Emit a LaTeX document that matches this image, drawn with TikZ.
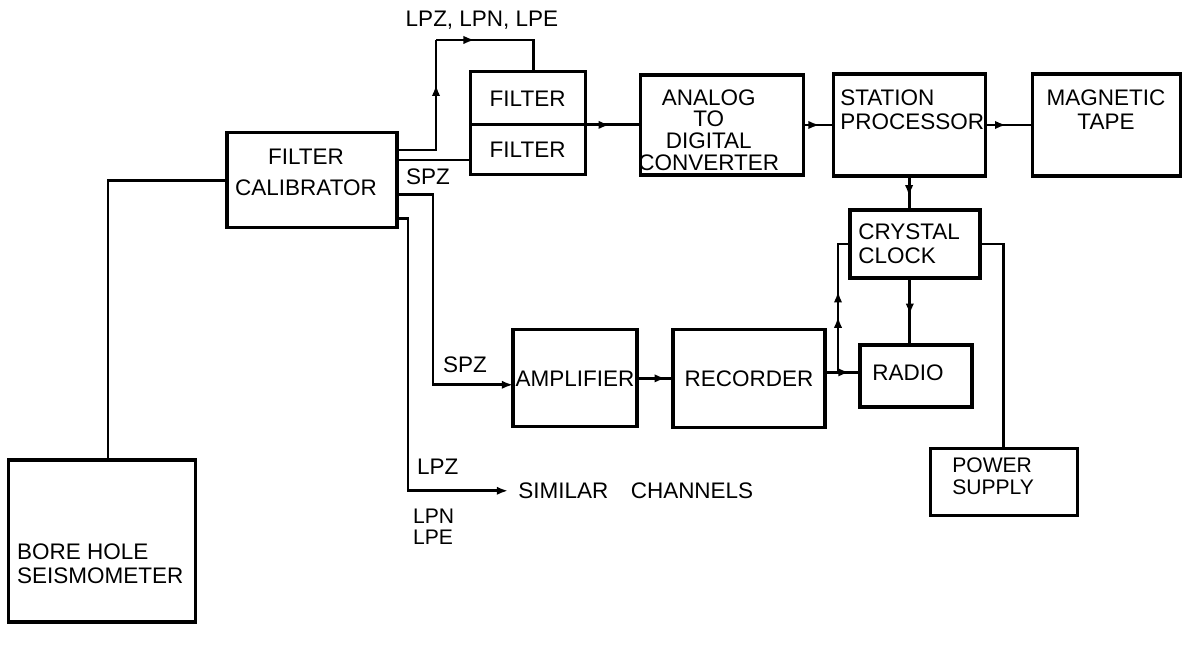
\documentclass[tikz,border=0pt]{standalone}
\usepackage{fontspec}
\setmainfont{Liberation Sans}
\usetikzlibrary{arrows.meta,positioning,calc,decorations.markings}
\tikzset{
  blk/.style={draw,line width=2.2pt,inner sep=0pt,outer sep=0pt},
  txt/.style={inner sep=0pt,align=left},
  wire/.style={line width=2pt},
  tip/.style={-{Latex[length=8pt,width=6pt]}},
  arr/.style={postaction={decorate},decoration={markings,
    mark=at position #1 with {\arrow{Latex[length=8pt,width=6pt]}}}},
  arrtwo/.style 2 args={postaction={decorate},decoration={markings,
    mark=at position #1 with {\arrow{Latex[length=8pt,width=6pt]}},
    mark=at position #2 with {\arrow{Latex[length=8pt,width=6pt]}}}}
}

\begin{document}
\begin{tikzpicture}[font=\fontsize{16}{17}\selectfont]
  \useasboundingbox (0,0) rectangle (29.55,16.35);
  % blocks
  \node[blk,minimum width=4.675cm,minimum height=4.05cm] (seis) at (2.54,2.825) {};
  \node[txt,anchor=west] at (0.42,2.26) {BORE HOLE\\SEISMOMETER};
  \node[blk,minimum width=4.25cm,minimum height=2.375cm] (cal) at (7.8,11.84) {};
  \node[txt,align=center] at (7.65,12.05) {FILTER\\[5pt]CALIBRATOR};
  \node[blk,minimum width=2.875cm,minimum height=1.325cm] (filtA) at (13.19,13.89) {FILTER};
  \node[blk,minimum width=2.875cm,minimum height=1.25cm,below=0pt of filtA] (filtB) {FILTER};
  \node[blk,minimum width=4.075cm,minimum height=2.5cm] (adc) at (18.04,13.225) {};
  \node[txt,align=center,font=\fontsize{16}{15.5}\selectfont] at (17.72,13.1) {ANALOG\\TO\\DIGITAL\\CONVERTER};
  \node[blk,minimum width=3.8cm,minimum height=2.55cm,right=0.75cm of adc] (stat) {};
  \node[txt,anchor=north west] at (21.0,14.1) {STATION\\PROCESSOR};
  \node[blk,minimum width=3.7cm,minimum height=2.55cm,right=1.175cm of stat] (tape) {};
  \node[txt,align=center] at (27.65,13.6) {MAGNETIC\\TAPE};
  \node[blk,minimum width=3.25cm,minimum height=1.7cm] (clk) at (22.875,10.25) {};
  \node[txt,anchor=north west] at (21.45,10.75) {CRYSTAL\\CLOCK};
  \node[blk,minimum width=2.8cm,minimum height=1.55cm] (radio) at (22.9,6.95) {};
  \node[txt] at (22.7,7.025) {RADIO};
  \node[blk,minimum width=3.675cm,minimum height=1.675cm] (pwr) at (25.09,4.31) {};
  \node[txt,anchor=north west,font=\fontsize{15}{15}\selectfont] at (23.8,4.9) {POWER\\SUPPLY};
  \node[blk,minimum width=3.1cm,minimum height=2.425cm] (amp) at (14.375,6.89) {AMPLIFIER};
  \node[blk,minimum width=3.8cm,minimum height=2.45cm,right=0.9cm of amp] (rec) {RECORDER};
  % channel labels
  \node[txt] (lplab) at (12.05,15.85) {LPZ, LPN, LPE};
  \node[txt] (spzup) at (10.7,11.92) {SPZ};
  \node[txt] (spzlow) at (11.625,7.225) {SPZ};
  \node[txt,anchor=west] (lpz) at (10.42,4.675) {LPZ};
  \node[txt,anchor=west,font=\fontsize{15}{15}\selectfont] (lpne) at (10.32,3.175) {LPN\\LPE};
  \node[txt,anchor=west] (sim) at (12.95,4.08) {SIMILAR\quad CHANNELS};
  % seismometer to calibrator
  \draw[wire] ([xshift=.16cm]seis.north) |- (cal.west);
  % long period branch over the filters
  \coordinate (lpknee) at (10.9,15.35);
  \draw[wire,arr=.7] ([yshift=.76cm]cal.east) -| (lpknee);
  \draw[wire,arr=.3] (lpknee) -| ([xshift=.14cm]filtA.north);
  % short period branch
  \coordinate (spzA) at ([yshift=.51cm]cal.east);
  \draw[wire] (spzA) -- (spzA -| filtB.west);
  \coordinate (spzB) at ([yshift=-.36cm]cal.east);
  \coordinate (spzknee) at (10.825,9);
  \coordinate (spzC) at ([yshift=-.16cm]amp.west);
  \draw[wire,tip] (spzB) -| (spzknee) |- (spzC);
  % other channels
  \coordinate (lpB) at ([yshift=-.96cm]cal.east);
  \coordinate (lpknee2) at (10.2,8);
  \draw[wire,tip,shorten >=0.25cm] (lpB) -| (lpknee2) |- (sim.west);
  % digital chain
  \draw[wire,arr=.45] (filtA.south east) -- (filtA.south east -| adc.west);
  \draw[wire,arr=.55] (adc.east) -- (stat.west);
  \draw[wire,arr=.45] (stat.east) -- (tape.west);
  \draw[wire,arr=.6] (stat.south) -- (stat.south |- clk.north);
  % analog chain and timing
  \draw[wire,arr=.8] (amp.east) -- (rec.west);
  \coordinate (recout) at ([yshift=.15cm]rec.east);
  \draw[wire,arr=.7] (recout) -- (recout -| radio.west);
  \coordinate (jct) at (20.95,7.025);
  \draw[wire,arrtwo={.4}{.58}] (jct) |- (clk.west);
  \coordinate (ckr) at ($(clk.south)+(-.13,0)$);
  \draw[wire,arr=.55] (ckr) -- (ckr |- radio.north);
  \draw[wire] (clk.east) -| (pwr.north);
\end{tikzpicture}
\end{document}
